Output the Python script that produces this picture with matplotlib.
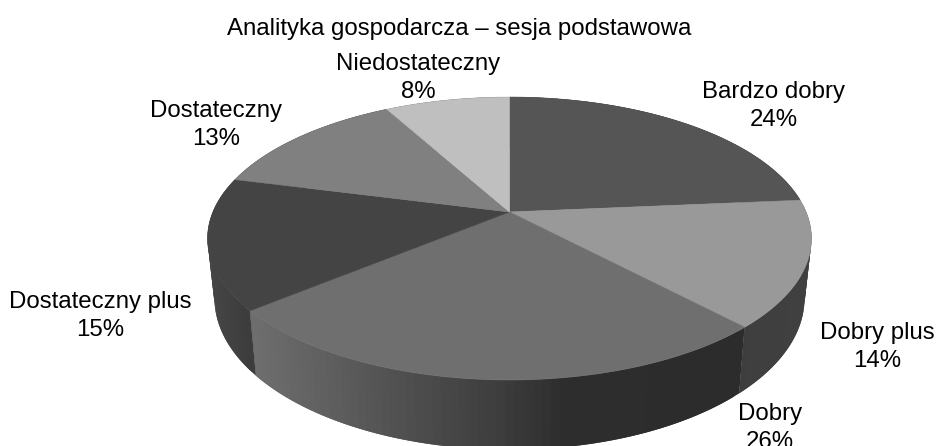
import numpy as np
import matplotlib
matplotlib.use('Agg')
import matplotlib.pyplot as plt
from matplotlib.collections import PolyCollection

plt.rcParams['font.family'] = ['Liberation Sans', 'DejaVu Sans']

# dane z wykresu
title = 'Analityka gospodarcza – sesja podstawowa'
categories = ['Bardzo dobry', 'Dobry plus', 'Dobry', 'Dostateczny plus', 'Dostateczny', 'Niedostateczny']
values = [23.6, 14.4, 26, 15, 13, 8]
percent_labels = ['24%', '14%', '26%', '15%', '13%', '8%']
top_colors = ['#555555', '#999999', '#6f6f6f', '#444444', '#808080', '#bfbfbf']

# srodki etykiet w pikselach
label_x = [774, 877, 770, 100, 216, 418]
label_y = [106, 347, 428, 316, 125, 78]

# pseudo 3D: rzut perspektywiczny kola
cx, cy = 509.5, 212
k, sx, sy = 0.1873, 296.6, 136.5
scale_x, scale_y, drop = 0.977, 1.07, 58


def top_rim(theta):
    x, y = np.sin(theta), np.cos(theta)
    w = 1 + k * y
    return sx * x / w, sy * y / w


def side_gray(i, px):
    # cieniowanie bocznej sciany
    if i == 2:
        return np.interp(px, [250, 433, 509, 580, 745], [112, 76, 62, 45, 44])
    if i == 1:
        return np.interp(px, [740, 810], [62, 64])
    return np.interp(px, [207, 257], [70, 60])


fig = plt.figure(figsize=(9.36, 4.46), dpi=100)
ax = fig.add_axes([0, 0, 1, 1])
ax.set_xlim(0, 936)
ax.set_ylim(446, 0)
ax.axis('off')

edges = np.cumsum([0] + values) / sum(values) * 2 * np.pi

# boki, paski zachodza na siebie zeby nie bylo prazkow
for i in range(len(values)):
    t = np.linspace(edges[i], edges[i + 1], max(int((edges[i + 1] - edges[i]) * 40), 2))
    X, Y = top_rim(t)
    top_x, top_y = cx + X, cy - Y
    bot_x, bot_y = cx + X * scale_x, cy - Y * scale_y + drop
    strips = []
    grays = []
    for j in range(len(t) - 1):
        e = min(j + 3, len(t))
        strips.append(np.c_[np.r_[top_x[j:e], bot_x[j:e][::-1]],
                            np.r_[top_y[j:e], bot_y[j:e][::-1]]])
        g = side_gray(i, top_x[j]) / 255
        grays.append((g, g, g))
    # od konca, zeby kazdy pasek przykrywal nadmiar nastepnego
    ax.add_collection(PolyCollection(strips[::-1], facecolors=grays[::-1], edgecolors='none'))

# gorne sciany
for i in range(len(values)):
    t = np.linspace(edges[i], edges[i + 1], 200)
    X, Y = top_rim(t)
    px = np.r_[cx, cx + X]
    py = np.r_[cy, cy - Y]
    ax.fill(px, py, facecolor=top_colors[i], edgecolor=top_colors[i], linewidth=0.4, zorder=3)

ax.text(459, 29, title, ha='center', va='center', fontsize=17.25, color='black')
for name, pct, lx, ly in zip(categories, percent_labels, label_x, label_y):
    ax.text(lx, ly - 14, name, ha='center', va='center', fontsize=17.25, color='black', zorder=4)
    ax.text(lx, ly + 14, pct, ha='center', va='center', fontsize=17.25, color='black', zorder=4)

fig.savefig('out.png', dpi=100)
